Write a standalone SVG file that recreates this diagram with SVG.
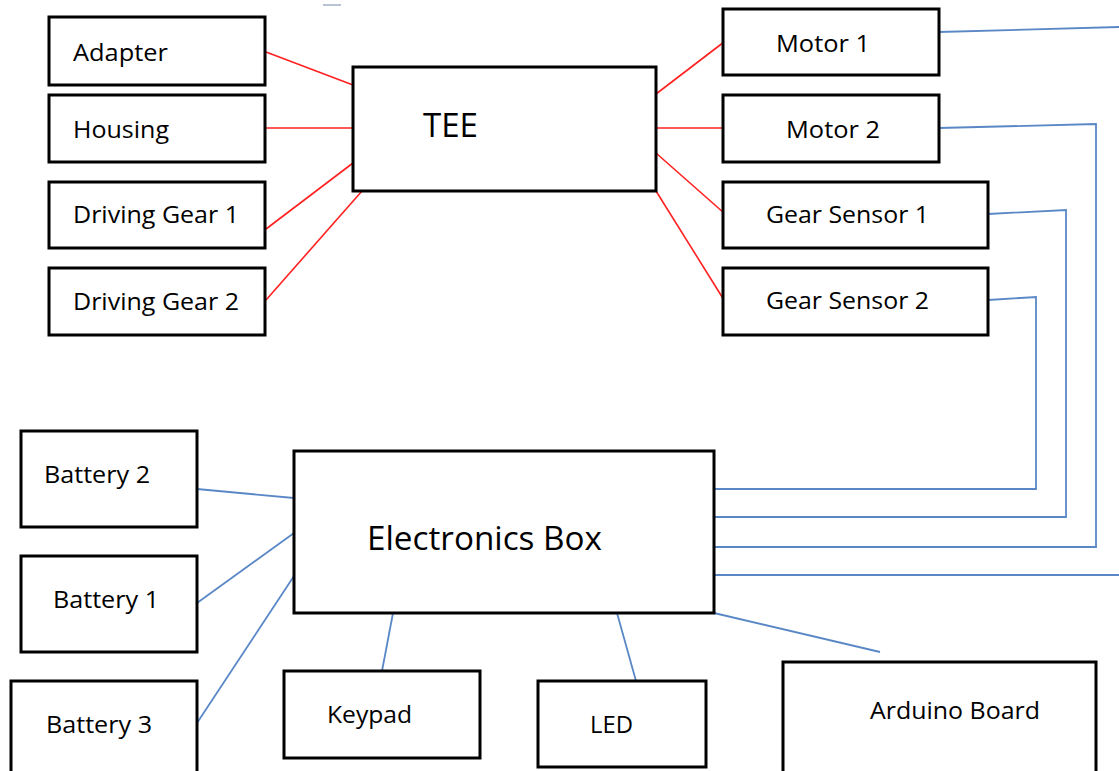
<svg xmlns="http://www.w3.org/2000/svg" width="1119" height="771" viewBox="0 0 1119 771">
<style>
.box{fill:#fff;stroke:#000;stroke-width:3}
.t{font-family:"Open Sans","Liberation Sans",sans-serif;font-size:24px;fill:#000}
.tb{font-family:"Open Sans","Liberation Sans",sans-serif;font-size:33px;fill:#000}
.red{stroke:#FF2020;stroke-width:1.6;fill:none}
.blue{stroke:#5A88C6;stroke-width:1.8;fill:none}
</style>
<rect width="1119" height="771" fill="#fff"/>
<line x1="323" y1="5" x2="341" y2="5" stroke="#7C8CB0" stroke-width="1.5" opacity="0.7"/>
<g id="connectors">
<line class="red" x1="266" y1="52" x2="353" y2="85"/>
<line class="red" x1="266" y1="128" x2="353" y2="128"/>
<line class="red" x1="266" y1="229" x2="353" y2="163"/>
<line class="red" x1="266" y1="300" x2="362" y2="191"/>
<line class="red" x1="656" y1="94" x2="724" y2="42"/>
<line class="red" x1="656" y1="128" x2="724" y2="128"/>
<line class="red" x1="656" y1="153" x2="724" y2="213"/>
<line class="red" x1="656" y1="191" x2="724" y2="300"/>
<polyline class="blue" points="939,32 1119,27"/>
<polyline class="blue" points="939,128 1096,124 1096,547 714,547"/>
<polyline class="blue" points="988,214 1066,210 1066,517 714,517"/>
<polyline class="blue" points="988,300 1036,297 1036,489 714,489"/>
<line class="blue" x1="714" y1="575" x2="1119" y2="575"/>
<line class="blue" x1="714" y1="613" x2="880" y2="652"/>
<line class="blue" x1="197" y1="489" x2="294" y2="498"/>
<line class="blue" x1="197" y1="603" x2="294" y2="533"/>
<line class="blue" x1="197" y1="723" x2="294" y2="576"/>
<line class="blue" x1="393" y1="613" x2="382" y2="671"/>
<line class="blue" x1="617" y1="613" x2="636" y2="681"/>
</g>
<g id="adapter"><rect class="box" x="49" y="17" width="216" height="68"/><text class="t" x="73" y="61" textLength="95" lengthAdjust="spacingAndGlyphs">Adapter</text></g>
<g id="housing"><rect class="box" x="49" y="95" width="216" height="67"/><text class="t" x="73" y="138" textLength="96" lengthAdjust="spacingAndGlyphs">Housing</text></g>
<g id="driving-gear-1"><rect class="box" x="49" y="182" width="216" height="66"/><text class="t" x="73" y="223" textLength="166" lengthAdjust="spacingAndGlyphs">Driving Gear 1</text></g>
<g id="driving-gear-2"><rect class="box" x="49" y="268" width="216" height="67"/><text class="t" x="73" y="310" textLength="166" lengthAdjust="spacingAndGlyphs">Driving Gear 2</text></g>
<g id="tee"><rect class="box" x="353" y="67" width="303" height="124"/><text class="tb" x="423" y="137" textLength="55" lengthAdjust="spacingAndGlyphs">TEE</text></g>
<g id="motor-1"><rect class="box" x="723" y="9" width="216" height="66"/><text class="t" x="776" y="52" textLength="94" lengthAdjust="spacingAndGlyphs">Motor 1</text></g>
<g id="motor-2"><rect class="box" x="723" y="95" width="216" height="67"/><text class="t" x="786" y="138" textLength="94" lengthAdjust="spacingAndGlyphs">Motor 2</text></g>
<g id="gear-sensor-1"><rect class="box" x="723" y="182" width="265" height="66"/><text class="t" x="766" y="223" textLength="163" lengthAdjust="spacingAndGlyphs">Gear Sensor 1</text></g>
<g id="gear-sensor-2"><rect class="box" x="723" y="268" width="265" height="67"/><text class="t" x="766" y="309" textLength="163" lengthAdjust="spacingAndGlyphs">Gear Sensor 2</text></g>
<g id="electronics-box"><rect class="box" x="294" y="451" width="420" height="162"/><text class="tb" x="367" y="550" textLength="235" lengthAdjust="spacingAndGlyphs">Electronics Box</text></g>
<g id="battery-2"><rect class="box" x="21" y="431" width="176" height="96"/><text class="t" x="44" y="483" textLength="106" lengthAdjust="spacingAndGlyphs">Battery 2</text></g>
<g id="battery-1"><rect class="box" x="21" y="556" width="176" height="96"/><text class="t" x="53" y="608" textLength="106" lengthAdjust="spacingAndGlyphs">Battery 1</text></g>
<g id="battery-3"><rect class="box" x="11" y="681" width="186" height="100"/><text class="t" x="46" y="733" textLength="106" lengthAdjust="spacingAndGlyphs">Battery 3</text></g>
<g id="keypad"><rect class="box" x="284" y="671" width="196" height="87"/><text class="t" x="327" y="723" textLength="85" lengthAdjust="spacingAndGlyphs">Keypad</text></g>
<g id="led"><rect class="box" x="538" y="681" width="168" height="86"/><text class="t" x="590" y="733" textLength="43" lengthAdjust="spacingAndGlyphs">LED</text></g>
<g id="arduino-board"><rect class="box" x="783" y="662" width="313" height="120"/><text class="t" x="870" y="719" textLength="170" lengthAdjust="spacingAndGlyphs">Arduino Board</text></g>
</svg>
